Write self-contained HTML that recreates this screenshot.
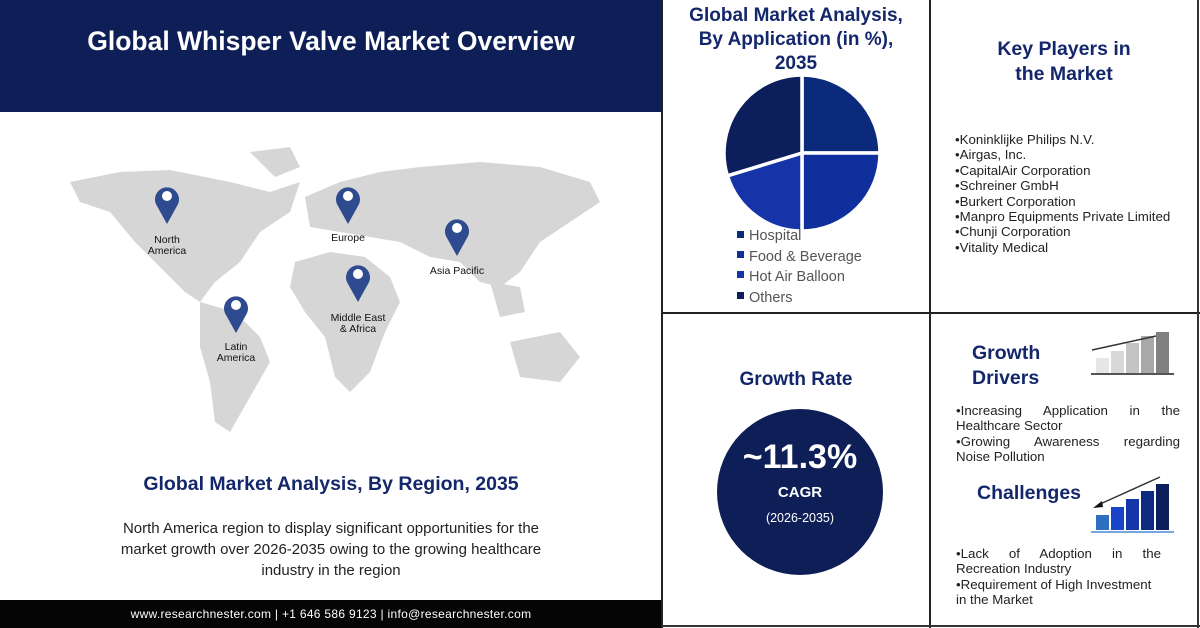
<!DOCTYPE html>
<html><head><meta charset="utf-8"><style>
*{margin:0;padding:0;box-sizing:border-box}
body{width:1200px;height:628px;background:#fff;position:relative;overflow:hidden;font-family:"Liberation Sans",sans-serif}
.a{position:absolute}
.navy{color:#14276b;font-weight:bold}
.list{font-size:13.3px;color:#222;line-height:15.4px}
.jl{text-align:justify;text-align-last:justify}
</style></head><body>
<div class="a" style="left:0;top:0;width:662px;height:112px;background:#0e1f57"></div>
<div class="a" style="left:0;top:26px;width:662px;text-align:center;color:#fff;font-weight:bold;font-size:26.5px">Global Whisper Valve Market Overview</div>
<div class="a" style="left:0;top:600px;width:662px;height:28px;background:#050505;color:#fff;font-size:12px;text-align:center;line-height:28px;letter-spacing:.3px">www.researchnester.com | +1 646 586 9123 | info@researchnester.com</div>
<svg class="a" style="left:0;top:112px" width="662" height="360">
<g fill="#d6d6d6">
<path d="M70 70 L120 60 L170 58 L230 70 L270 80 L300 70 L290 100 L260 120 L240 150 L215 170 L200 190 L185 180 L165 160 L135 130 L110 100 L80 90 Z"/>
<path d="M250 40 L290 35 L300 55 L275 65 Z"/>
<path d="M200 190 L235 200 L260 225 L270 250 L250 285 L230 320 L215 310 L210 270 L200 235 Z"/>
<path d="M305 85 L340 70 L380 60 L420 55 L480 50 L540 55 L590 70 L600 90 L570 110 L540 130 L520 160 L500 175 L480 170 L460 150 L430 145 L400 130 L370 125 L340 120 L310 115 Z"/>
<path d="M295 150 L330 140 L365 145 L390 165 L400 190 L385 220 L370 260 L350 280 L335 265 L325 225 L305 200 L290 175 Z"/>
<path d="M510 230 L560 220 L580 245 L560 270 L520 265 Z"/>
<path d="M490 170 L520 175 L525 200 L500 205 Z"/>
</g>
<g fill="#2d4b8e">
<g transform="translate(167,84)"><path d="M0 28 L-10 10 A12 12 0 1 1 10 10 Z"/><circle r="5" fill="#fff"/></g>
<g transform="translate(348,84)"><path d="M0 28 L-10 10 A12 12 0 1 1 10 10 Z"/><circle r="5" fill="#fff"/></g>
<g transform="translate(457,116)"><path d="M0 28 L-10 10 A12 12 0 1 1 10 10 Z"/><circle r="5" fill="#fff"/></g>
<g transform="translate(358,162)"><path d="M0 28 L-10 10 A12 12 0 1 1 10 10 Z"/><circle r="5" fill="#fff"/></g>
<g transform="translate(236,193)"><path d="M0 28 L-10 10 A12 12 0 1 1 10 10 Z"/><circle r="5" fill="#fff"/></g>
</g>
<g font-size="10.5" fill="#111" text-anchor="middle" font-family="Liberation Sans">
<text x="167" y="131">North</text><text x="167" y="142">America</text>
<text x="348" y="129">Europe</text>
<text x="457" y="162">Asia Pacific</text>
<text x="358" y="209">Middle East</text><text x="358" y="220">&amp; Africa</text>
<text x="236" y="238">Latin</text><text x="236" y="249">America</text>
</g>
</svg>
<div class="a navy" style="left:0;top:473px;width:662px;text-align:center;font-size:19.5px">Global Market Analysis, By Region, 2035</div>
<div class="a" style="left:100px;top:518px;width:462px;text-align:center;font-size:15px;line-height:21px;color:#222">North America region to display significant opportunities for the market growth over 2026-2035 owing to the growing healthcare industry in the region</div>
<div class="a" style="left:661px;top:0;width:2px;height:628px;background:#222"></div>
<div class="a" style="left:929px;top:0;width:2px;height:628px;background:#222"></div>
<div class="a" style="left:662px;top:312px;width:538px;height:2px;background:#222"></div>
<div class="a" style="left:1197px;top:0;width:2px;height:628px;background:#333"></div>
<div class="a" style="left:662px;top:625px;width:538px;height:2px;background:#333"></div>
<div class="a navy" style="left:662px;top:4px;width:268px;text-align:center;font-size:19px;line-height:24px">Global Market Analysis,<br>By Application (in %),<br>2035</div>
<svg class="a" style="left:662px;top:0" width="268" height="312">
<g transform="translate(140,153)" stroke="#fff" stroke-width="3.5">
<path d="M0 0 L0 -78 A78 78 0 0 1 78 0 Z" fill="#0b2a7c"/>
<path d="M0 0 L78 0 A78 78 0 0 1 0 78 Z" fill="#0e2f9c"/>
<path d="M0 0 L0 78 A78 78 0 0 1 -74.6 22.8 Z" fill="#1534a8"/>
<path d="M0 0 L-74.6 22.8 A78 78 0 0 1 0 -78 Z" fill="#0c1f5c"/>
</g>
<g font-family="Liberation Sans" font-size="14.5" fill="#555">
<rect x="75" y="231" width="7" height="7" fill="#0b2a7c"/><text x="87" y="240">Hospital</text>
<rect x="75" y="251" width="7" height="7" fill="#0e2f9c"/><text x="87" y="261">Food &amp; Beverage</text>
<rect x="75" y="271" width="7" height="7" fill="#1534a8"/><text x="87" y="281">Hot Air Balloon</text>
<rect x="75" y="292" width="7" height="7" fill="#0c1f5c"/><text x="87" y="302">Others</text>
</g>
</svg>
<div class="a navy" style="left:931px;top:37px;width:266px;text-align:center;font-size:19.5px;line-height:25px">Key Players in<br>the Market</div>
<div class="a list" style="left:955px;top:132px">•Koninklijke Philips N.V.<br>•Airgas, Inc.<br>•CapitalAir Corporation<br>•Schreiner GmbH<br>•Burkert Corporation<br>•Manpro Equipments Private Limited<br>•Chunji Corporation<br>•Vitality Medical</div>
<div class="a navy" style="left:662px;top:369px;width:268px;text-align:center;font-size:19px">Growth Rate</div>
<div class="a" style="left:717px;top:409px;width:166px;height:166px;border-radius:50%;background:#0e1f57"></div>
<div class="a" style="left:717px;top:438px;width:166px;text-align:center;color:#fff;font-weight:bold;font-size:34px">~11.3%</div>
<div class="a" style="left:717px;top:484px;width:166px;text-align:center;color:#fff;font-weight:bold;font-size:15px">CAGR</div>
<div class="a" style="left:717px;top:511px;width:166px;text-align:center;color:#fff;font-size:12.5px">(2026-2035)</div>
<div class="a navy" style="left:972px;top:341px;font-size:19.5px;line-height:25px">Growth<br>Drivers</div>
<svg class="a" style="left:1090px;top:332px" width="100" height="110">
<rect x="6" y="26" width="13" height="15" fill="#e6e6e6"/><rect x="21" y="19" width="13" height="22" fill="#d8d8d8"/><rect x="36" y="11" width="13" height="30" fill="#c4c4c4"/><rect x="51" y="4" width="13" height="37" fill="#a8a8a8"/><rect x="66" y="-4" width="13" height="45" fill="#808080"/>
<line x1="1" y1="42" x2="84" y2="42" stroke="#555" stroke-width="2"/>
<line x1="2" y1="22" x2="66" y2="8" stroke="#333" stroke-width="1.5" transform="translate(0,-4)"/>
</svg>
<div class="a list" style="left:956px;top:403px;width:224px"><div class="jl">•Increasing Application in the</div><div>Healthcare Sector</div><div class="jl">•Growing Awareness regarding</div><div>Noise Pollution</div></div>
<div class="a navy" style="left:977px;top:482px;font-size:19.5px">Challenges</div>
<svg class="a" style="left:1090px;top:475px" width="100" height="70">
<rect x="6" y="40" width="13" height="15" fill="#2f6fc0"/><rect x="21" y="32" width="13" height="23" fill="#1a44c8"/><rect x="36" y="24" width="13" height="31" fill="#1535a8"/><rect x="51" y="16" width="13" height="39" fill="#0e2a80"/><rect x="66" y="9" width="13" height="46" fill="#0c1f5c"/>
<line x1="1" y1="57" x2="84" y2="57" stroke="#7aa6e0" stroke-width="2"/>
<line x1="8" y1="30" x2="70" y2="2" stroke="#333" stroke-width="1.5"/>
<path d="M3 33 L12 26 L13 32 Z" fill="#111"/>
</svg>
<div class="a list" style="left:956px;top:546px;width:224px"><div class="jl" style="width:205px">•Lack of Adoption in the</div><div>Recreation Industry</div><div>•Requirement of High Investment</div><div>in the Market</div></div>
</body></html>
